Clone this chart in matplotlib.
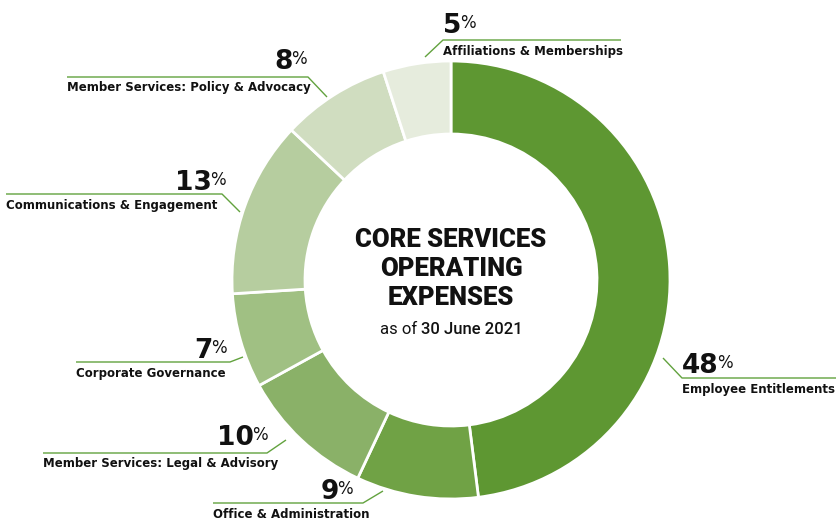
import matplotlib
matplotlib.use("Agg")
import matplotlib.pyplot as plt

# ---------------------------------------------------------------------------
# data
# ---------------------------------------------------------------------------
categories = [
    "Employee Entitlements",
    "Office & Administration",
    "Member Services: Legal & Advisory",
    "Corporate Governance",
    "Communications & Engagement",
    "Member Services: Policy & Advocacy",
    "Affiliations & Memberships",
]
shares = [48, 9, 10, 7, 13, 8, 5]
colors = ["#5E9732", "#70A245", "#8AB168", "#A0C083", "#B6CD9F", "#D0DDC0", "#E6ECDD"]

title_lines = ["CORE SERVICES", "OPERATING", "EXPENSES"]
subtitle_pre, subtitle_date = "as of ", "30 June 2021"

# ---------------------------------------------------------------------------
# layout (pixel coords, y measured from top)
# ---------------------------------------------------------------------------
W, H = 836, 522
CX, CY, R_OUT, R_IN = 451, 280, 219, 146
LINE_GREEN = "#62A23E"
TXT = "#111111"
PCT_FONT = ["DejaVu Sans"]
LBL_FONT = ["DejaVu Sans"]
COND_FONT = ["Roboto", "DejaVu Sans"]

# side, line x0, line x1, line y, diagonal end (x, y), pct anchor x, pct baseline y
leaders = [
    ("right", 682, 836, 378, (663, 358), 682, 373),
    ("left", 213, 363, 503, (383, 491), 353, 499),
    ("left", 43, 267, 453, (286, 440), 268, 445),
    ("left", 76, 230, 362, (243, 357), 227, 358),
    ("left", 6, 222, 194, (240, 212), 226, 190),
    ("left", 67, 308, 77, (327, 97), 307, 69),
    ("right", 443, 621, 40, (425, 57), 443, 33),
]


def py(y):
    return H - y


fig = plt.figure(figsize=(W / 100, H / 100), dpi=100)
ax = fig.add_axes([0, 0, 1, 1])
renderer = fig.canvas.get_renderer()

ax.pie(shares, colors=colors, startangle=90, counterclock=False,
       radius=R_OUT, center=(CX, py(CY)),
       wedgeprops=dict(width=R_OUT - R_IN, edgecolor="white", linewidth=2))
ax.set_xlim(0, W)
ax.set_ylim(0, H)
ax.set_aspect("equal")
ax.set_axis_off()


def text_width(t):
    return t.get_window_extent(renderer).width


for cat, val, (side, x0, x1, ly, (dx, dy), px, pb) in zip(categories, shares, leaders):
    # leader line
    if side == "right":
        ax.plot([dx, x0, x1], [py(dy), py(ly), py(ly)], color=LINE_GREEN, lw=1.0,
                solid_capstyle="butt")
    else:
        ax.plot([x0, x1, dx], [py(ly), py(ly), py(dy)], color=LINE_GREEN, lw=1.0,
                solid_capstyle="butt")
    # category name under the line
    ax.text(x0, py(ly + 11), cat, ha="left", va="center", fontsize=8.5,
            fontweight="bold", family=LBL_FONT, color=TXT)
    # percentage above the line: big number + small raised "%"
    if side == "right":
        num = ax.text(px, py(pb), str(val), ha="left", va="baseline",
                      fontsize=19, fontweight="bold", family=PCT_FONT, color=TXT)
        ax.text(px + text_width(num) - 1.5, py(pb - 5), "%", ha="left", va="baseline",
                fontsize=12, family=PCT_FONT, color=TXT)
    else:
        pct = ax.text(px, py(pb - 5), "%", ha="right", va="baseline",
                      fontsize=12, family=PCT_FONT, color=TXT)
        ax.text(px - text_width(pct) + 1.5, py(pb), str(val), ha="right", va="baseline",
                fontsize=19, fontweight="bold", family=PCT_FONT, color=TXT)

# centre title
for i, line in enumerate(title_lines):
    ax.text(CX, py(240 + i * 29), line, ha="center", va="center", fontsize=18.5,
            fontweight="heavy", family=COND_FONT, color=TXT)

pre = ax.text(0, py(329), subtitle_pre, ha="left", va="center", fontsize=12,
              family=COND_FONT, color=TXT)
date = ax.text(0, py(329), subtitle_date, ha="left", va="center", fontsize=12,
               fontweight="medium", family=COND_FONT, color=TXT)
w_pre, w_date = text_width(pre), text_width(date)
start = CX - (w_pre + w_date) / 2
pre.set_x(start)
date.set_x(start + w_pre)

fig.savefig("out.png", dpi=100)
